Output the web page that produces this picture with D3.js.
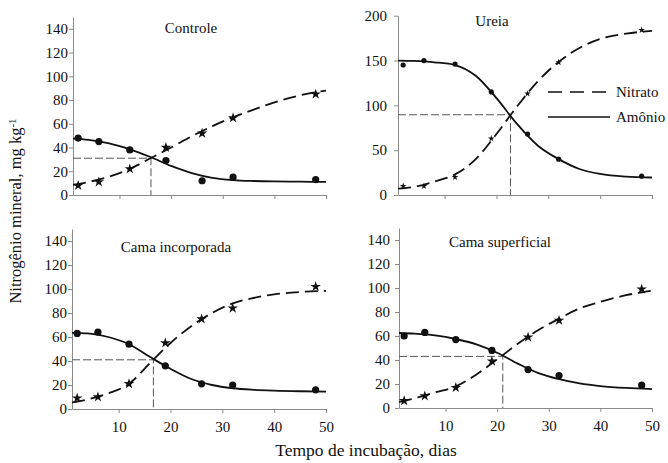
<!DOCTYPE html>
<html>
<head>
<meta charset="utf-8">
<script src="https://cdn.jsdelivr.net/npm/d3@7"></script>
<style>
  body { margin: 0; background: #fff; }
  svg { display: block; }
  svg text { font-family: "Liberation Serif", "Times New Roman", "DejaVu Serif", serif; }
</style>
</head>
<body>
<div id="chart"></div>
<script>
// observed days and measured values
const obsDays = [2, 6, 12, 19, 26, 32, 48];
const panelNames = ["Controle", "Ureia", "Cama incorporada", "Cama superficial"];

const controleAmonio = [48, 45, 38, 29, 12, 15, 13];
const controleNitrato = [8, 11, 22, 40, 52, 65, 85];
const ureiaAmonio = [145, 150, 146, 115, 68, 40, 21];
const ureiaNitrato = [10, 10, 20, 63, 113, 148, 184];
const incorpAmonio = [63, 64, 54, 36, 21, 20, 16];
const incorpNitrato = [9, 10, 21, 55, 75, 84, 102];
const superfAmonio = [60, 63, 57, 48, 32, 27, 19];
const superfNitrato = [6, 10, 17, 39, 59, 73, 99];

// fitted curves
const fitDays = [1, 4, 8, 12, 16, 20, 24, 28, 32, 36, 40, 45, 50];
const controleAmonioFit = [47.5, 46.5, 43.5, 38.5, 32, 24.5, 18.5, 14.5, 12.6, 11.8, 11.4, 11.2, 11.1];
const controleNitratoFit = [8.5, 11, 15.5, 22, 31, 40, 49.5, 58, 65.5, 72, 78, 84, 88];
const ureiaAmonioFit = [150, 149.5, 148, 145, 133, 108, 79, 55, 40, 29, 23.5, 20.5, 19.5];
const ureiaNitratoFit = [7, 9, 15, 23, 40, 68, 99, 127, 148.5, 164, 174, 180, 183];
const incorpAmonioFit = [63.5, 63, 60, 54, 43.5, 33.5, 25, 20, 17.3, 16, 15.3, 14.8, 14.5];
const incorpNitratoFit = [5.5, 8, 13, 21, 38, 55, 69, 80, 88, 92.5, 95.5, 97.5, 98.5];
const superfAmonioFit = [62.5, 62, 60.5, 57.5, 53, 46, 37, 29, 24, 20.5, 18.3, 16.7, 15.8];
const superfNitratoFit = [5, 8, 13, 18, 28, 40.5, 53.5, 65, 74.5, 83, 88.5, 94, 97.8];

// crossing point of the two curves
const crossDay = [16.1, 22.7, 16.7, 21.1];
const crossValue = [31, 89.5, 41, 43];

const xTicks = [10, 20, 30, 40, 50];
const yTicks140 = [0, 20, 40, 60, 80, 100, 120, 140];
const yTicks200 = [0, 50, 100, 150, 200];

const FONT = "Liberation Serif, Times New Roman, serif";

const svg = d3.select("#chart")
    .append("svg")
    .attr("width", 668)
    .attr("height", 463)
    .attr("font-family", FONT);

const panels = [
    { name: panelNames[0], am: controleAmonio, ni: controleNitrato, amFit: controleAmonioFit, niFit: controleNitratoFit,
      yMax: 150, yTicks: yTicks140, x0: 73, x1: 326, y0: 195, y1: 17, labels: false, pad: 1, r: 3.6, star: 34,
      tx: 191, ty: 33 },
    { name: panelNames[1], am: ureiaAmonio, ni: ureiaNitrato, amFit: ureiaAmonioFit, niFit: ureiaNitratoFit,
      yMax: 200, yTicks: yTicks200, x0: 398, x1: 652, y0: 195, y1: 15.7, labels: false, pad: 7, r: 2.6, star: 14,
      tx: 492, ty: 26 },
    { name: panelNames[2], am: incorpAmonio, ni: incorpNitrato, amFit: incorpAmonioFit, niFit: incorpNitratoFit,
      yMax: 150, yTicks: yTicks140, x0: 72, x1: 326, y0: 409, y1: 229, labels: true, pad: 1, r: 3.6, star: 34,
      tx: 176, ty: 252 },
    { name: panelNames[3], am: superfAmonio, ni: superfNitrato, amFit: superfAmonioFit, niFit: superfNitratoFit,
      yMax: 150, yTicks: yTicks140, x0: 399, x1: 652, y0: 408, y1: 228, labels: true, pad: 5, r: 3.6, star: 34,
      tx: 500, ty: 247 }
];

panels.forEach((p, i) => {
    const x = d3.scaleLinear().domain([1, 50]).range([p.x0, p.x1]);
    const y = d3.scaleLinear().domain([0, p.yMax]).range([p.y0, p.y1]);
    const g = svg.append("g");

    // axes
    const xAxis = g.append("g")
        .attr("transform", `translate(0,${p.y0})`)
        .call(d3.axisBottom(x).tickValues(xTicks).tickSize(4).tickSizeOuter(0).tickPadding(8)
            .tickFormat(p.labels ? d3.format("d") : ""));
    const yAxis = g.append("g")
        .attr("transform", `translate(${p.x0},0)`)
        .call(d3.axisLeft(y).tickValues(p.yTicks).tickSize(4).tickSizeOuter(0).tickPadding(p.pad));
    [xAxis, yAxis].forEach(a => {
        a.attr("font-family", FONT).attr("font-size", 15);
        a.select(".domain").attr("stroke", "#8a8a8a");
        a.selectAll(".tick line").attr("stroke", "#8a8a8a");
        a.selectAll("text").attr("fill", "#111");
    });

    // guide lines to the crossing point
    g.append("path")
        .attr("d", `M${p.x0},${y(crossValue[i])}H${x(crossDay[i])}V${p.y0}`)
        .attr("fill", "none")
        .attr("stroke", "#555")
        .attr("stroke-width", 1)
        .attr("stroke-dasharray", "8,3");

    const line = d3.line()
        .x((d, k) => x(fitDays[k]))
        .y(d => y(d))
        .curve(d3.curveMonotoneX);

    g.append("path")
        .attr("d", line(p.niFit))
        .attr("fill", "none")
        .attr("stroke", "#111")
        .attr("stroke-width", 1.8)
        .attr("stroke-dasharray", "13,6");

    g.append("path")
        .attr("d", line(p.amFit))
        .attr("fill", "none")
        .attr("stroke", "#111")
        .attr("stroke-width", 1.8);

    g.selectAll(".am")
        .data(p.am)
        .enter()
        .append("circle")
        .attr("cx", (d, k) => x(obsDays[k]))
        .attr("cy", d => y(d))
        .attr("r", p.r)
        .attr("fill", "#111");

    g.selectAll(".ni")
        .data(p.ni)
        .enter()
        .append("path")
        .attr("d", d3.symbol().type(d3.symbolStar).size(p.star))
        .attr("transform", (d, k) => `translate(${x(obsDays[k])},${y(d)})`)
        .attr("fill", "#111");

    g.append("text")
        .attr("x", p.tx)
        .attr("y", p.ty)
        .attr("text-anchor", "middle")
        .attr("font-size", 15)
        .attr("fill", "#111")
        .text(p.name);
});

// legend
const legend = svg.append("g").attr("font-size", 15);
legend.append("line").attr("x1", 548).attr("x2", 610).attr("y1", 92).attr("y2", 92)
    .attr("stroke", "#111").attr("stroke-width", 1.6).attr("stroke-dasharray", "14,8");
legend.append("text").attr("x", 616).attr("y", 97).attr("fill", "#111").text("Nitrato");
legend.append("line").attr("x1", 548).attr("x2", 610).attr("y1", 117).attr("y2", 117)
    .attr("stroke", "#111").attr("stroke-width", 1.6);
legend.append("text").attr("x", 616).attr("y", 122).attr("fill", "#111").text("Amônio");

// axis titles
svg.append("text")
    .attr("x", 366)
    .attr("y", 456)
    .attr("text-anchor", "middle")
    .attr("font-size", 17.5)
    .attr("fill", "#111")
    .text("Tempo de incubação, dias");

const yTitle = svg.append("text")
    .attr("transform", "translate(21,211) rotate(-90)")
    .attr("text-anchor", "middle")
    .attr("font-size", 16.5)
    .attr("fill", "#111");
yTitle.append("tspan").text("Nitrogênio mineral,  mg kg");
yTitle.append("tspan").attr("dy", "-0.45em").attr("font-size", 11).text("-1");
</script>
</body>
</html>
